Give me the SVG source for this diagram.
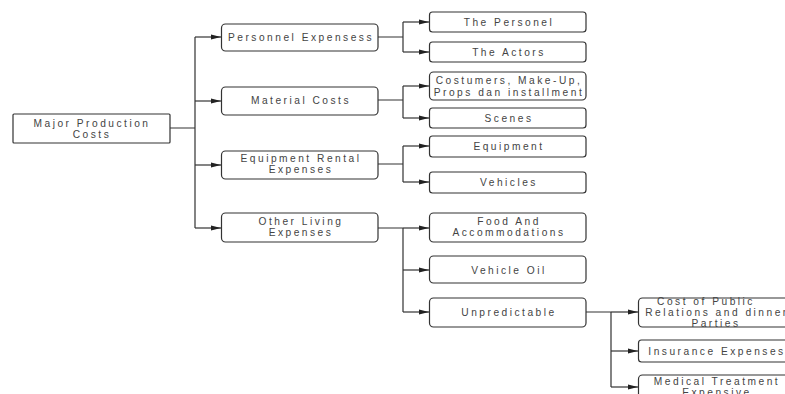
<svg xmlns="http://www.w3.org/2000/svg" width="785" height="394" viewBox="0 0 785 394">
<style>
.box{fill:#fff;stroke:#333;stroke-width:1.2}
.t{font-family:"Liberation Sans",Arial,sans-serif;font-size:10.2px;letter-spacing:2.5px;fill:#444;text-anchor:middle;dominant-baseline:central}
.c{fill:none;stroke:#333;stroke-width:1.2}
</style>
<defs>
<marker id="ar" markerWidth="10" markerHeight="6" refX="10" refY="3" orient="auto" markerUnits="userSpaceOnUse">
<path d="M0,0.5 L10,3 L0,5.5 Z" fill="#222"/>
</marker>
</defs>
<rect width="785" height="394" fill="#fff"/>
<g id="connectors">
<path class="c" d="M170,128 H195 M195,37 V228"/>
<path class="c" d="M195,37 H221" marker-end="url(#ar)"/>
<path class="c" d="M195,101 H221" marker-end="url(#ar)"/>
<path class="c" d="M195,165 H221" marker-end="url(#ar)"/>
<path class="c" d="M195,228 H221" marker-end="url(#ar)"/>
<path class="c" d="M378,37 H403 M403,22 V52"/>
<path class="c" d="M403,22 H429" marker-end="url(#ar)"/>
<path class="c" d="M403,52 H429" marker-end="url(#ar)"/>
<path class="c" d="M378,100 H403 M403,86 V118"/>
<path class="c" d="M403,86 H429" marker-end="url(#ar)"/>
<path class="c" d="M403,118 H429" marker-end="url(#ar)"/>
<path class="c" d="M378,164 H403 M403,146 V182"/>
<path class="c" d="M403,146 H429" marker-end="url(#ar)"/>
<path class="c" d="M403,182 H429" marker-end="url(#ar)"/>
<path class="c" d="M378,228 H403 M403,228 V312"/>
<path class="c" d="M403,228 H429" marker-end="url(#ar)"/>
<path class="c" d="M403,270 H429" marker-end="url(#ar)"/>
<path class="c" d="M403,312 H429" marker-end="url(#ar)"/>
<path class="c" d="M586,312 H611 M611,312 V387"/>
<path class="c" d="M611,312 H638" marker-end="url(#ar)"/>
<path class="c" d="M611,351 H638" marker-end="url(#ar)"/>
<path class="c" d="M611,387 H638" marker-end="url(#ar)"/>
</g>
<g id="root"><rect class="box" x="13" y="114" width="157" height="29" rx="1"/>
<text class="t" x="92" y="123.5">Major Production</text><text class="t" x="92" y="134.5">Costs</text></g>
<g id="personnel"><rect class="box" x="221.5" y="24" width="156.5" height="27" rx="4"/>
<text class="t" x="301" y="37">Personnel Expensess</text></g>
<g id="material"><rect class="box" x="221.5" y="87" width="156.5" height="28" rx="4"/>
<text class="t" x="301" y="100">Material Costs</text></g>
<g id="equipmentRental"><rect class="box" x="221.5" y="151" width="156.5" height="28" rx="4"/>
<text class="t" x="301" y="158.5">Equipment Rental</text><text class="t" x="301" y="169.5">Expenses</text></g>
<g id="otherLiving"><rect class="box" x="221.5" y="213" width="156.5" height="29" rx="4"/>
<text class="t" x="301" y="221.5">Other Living</text><text class="t" x="301" y="232.5">Expenses</text></g>
<g id="thePersonel"><rect class="box" x="429.5" y="12" width="156.5" height="20" rx="3"/>
<text class="t" x="509" y="22">The Personel</text></g>
<g id="theActors"><rect class="box" x="429.5" y="42" width="156.5" height="20" rx="3"/>
<text class="t" x="509" y="52">The Actors</text></g>
<g id="costumers"><rect class="box" x="429.5" y="72" width="156.5" height="28" rx="4"/>
<text class="t" x="509" y="80">Costumers, Make-Up,</text><text class="t" x="509" y="92">Props dan installment</text></g>
<g id="scenes"><rect class="box" x="429.5" y="108" width="156.5" height="20" rx="3"/>
<text class="t" x="509" y="118">Scenes</text></g>
<g id="equipment"><rect class="box" x="429.5" y="136" width="156.5" height="21" rx="3"/>
<text class="t" x="509" y="146">Equipment</text></g>
<g id="vehicles"><rect class="box" x="429.5" y="172" width="156.5" height="21" rx="3"/>
<text class="t" x="509" y="182">Vehicles</text></g>
<g id="food"><rect class="box" x="429.5" y="213" width="156.5" height="29" rx="4"/>
<text class="t" x="509" y="221.5">Food And</text><text class="t" x="509" y="232.5">Accommodations</text></g>
<g id="vehicleOil"><rect class="box" x="429.5" y="256" width="156.5" height="27" rx="4"/>
<text class="t" x="509" y="270">Vehicle Oil</text></g>
<g id="unpredictable"><rect class="box" x="429.5" y="298" width="156.5" height="29" rx="4"/>
<text class="t" x="509" y="312">Unpredictable</text></g>
<g id="publicRelations"><rect class="box" x="638.5" y="298" width="156.5" height="29" rx="4"/>
<text class="t" x="706" y="301">Cost of Public</text><text class="t" x="717" y="312">Relations and dinner</text><text class="t" x="716" y="323">Parties</text></g>
<g id="insurance"><rect class="box" x="638.5" y="340" width="156.5" height="22" rx="3"/>
<text class="t" x="717" y="351">Insurance Expenses</text></g>
<g id="medical"><rect class="box" x="638.5" y="375" width="156.5" height="28" rx="4"/>
<text class="t" x="717" y="381">Medical Treatment</text><text class="t" x="717" y="392">Expensive</text></g>
</svg>
